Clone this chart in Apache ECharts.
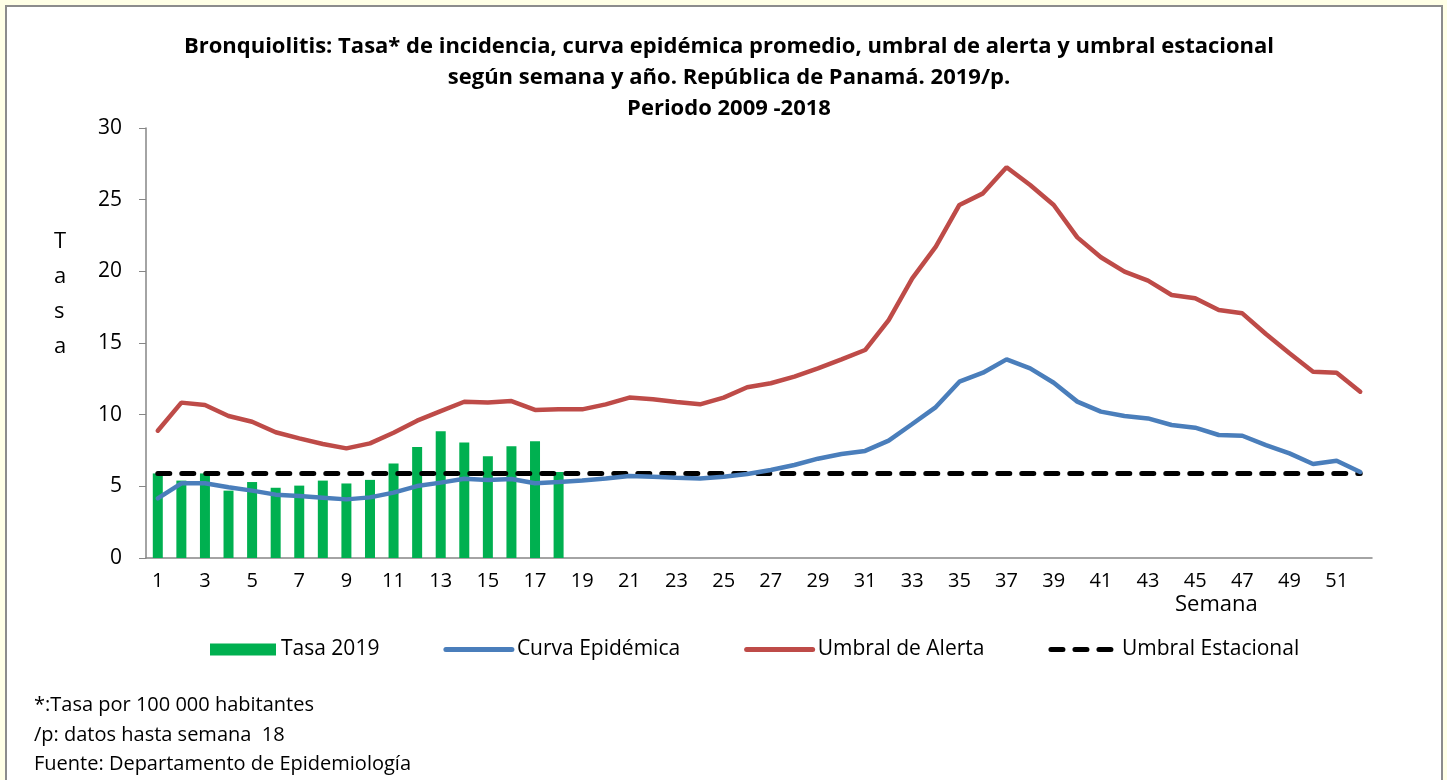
<!DOCTYPE html>
<html>
<head>
<meta charset="utf-8">
<script src="https://cdn.jsdelivr.net/npm/echarts@6/dist/echarts.min.js"></script>
<style>
  html, body { margin: 0; padding: 0; background: #ffffe6; }
  #frame {
    position: absolute; left: 5px; top: 5px;
    width: 1434px; height: 800px;
    background: #fff; border: 2px solid #8c8c8c;
  }
  #chart { position: absolute; left: 0; top: 0; width: 1447px; height: 780px; }
</style>
</head>
<body>
<div id="frame"></div>
<div id="chart"></div>
<script>
// semanas epidemiológicas 1..52
const semanas = Array.from({ length: 52 }, (_, i) => String(i + 1));

// tasa 2019 (datos hasta semana 18)
const tasa2019 = [5.9, 5.4, 5.9, 4.7, 5.3, 4.9, 5.05, 5.4, 5.2, 5.45,
  6.6, 7.75, 8.85, 8.05, 7.1, 7.8, 8.15, 6.0];

// curva epidémica promedio 2009-2018
const curvaEpidemica = [4.16, 5.21, 5.21, 4.93, 4.7, 4.42, 4.33, 4.21, 4.09, 4.23,
  4.56, 5.02, 5.26, 5.53, 5.44, 5.51, 5.21, 5.3, 5.4, 5.54,
  5.72, 5.67, 5.6, 5.54, 5.67, 5.86, 6.14, 6.49, 6.93, 7.26,
  7.47, 8.19, 9.35, 10.53, 12.3, 12.93, 13.86, 13.23, 12.23, 10.91,
  10.21, 9.91, 9.74, 9.28, 9.09, 8.58, 8.53, 7.88, 7.3, 6.56,
  6.79, 6.0];

// umbral de alerta
const umbralAlerta = [8.88, 10.84, 10.67, 9.91, 9.51, 8.77, 8.35, 7.95, 7.65, 8.0,
  8.74, 9.58, 10.25, 10.9, 10.85, 10.95, 10.33, 10.37, 10.37, 10.72,
  11.19, 11.07, 10.88, 10.72, 11.19, 11.91, 12.19, 12.65, 13.23, 13.86,
  14.51, 16.6, 19.51, 21.72, 24.63, 25.44, 27.26, 26.02, 24.63, 22.37,
  20.98, 19.98, 19.35, 18.35, 18.12, 17.3, 17.07, 15.63, 14.28, 13.0,
  12.93, 11.6];

// umbral estacional (constante)
const umbralEstacional = semanas.map(() => 5.9);

const notas = [
  "*:Tasa por 100 000 habitantes",
  "/p: datos hasta semana  18",
  "Fuente: Departamento de Epidemiología",
];

const FONT = "Open Sans";
const AZUL = "#4a7ebb";
const ROJO = "#be4b48";
const VERDE = "#00b050";

const chart = echarts.init(document.getElementById("chart"));

chart.setOption({
  backgroundColor: "transparent",
  textStyle: { fontFamily: FONT, color: "#000" },
  title: {
    text: "Bronquiolitis: Tasa* de incidencia, curva epidémica promedio, umbral de alerta y umbral estacional\nsegún semana y año. República de Panamá. 2019/p.\nPeriodo 2009 -2018",
    left: 724,
    textAlign: "center",
    top: 26,
    textStyle: {
      fontFamily: FONT,
      fontSize: 22,
      fontWeight: "bold",
      lineHeight: 31,
      color: "#000",
    },
  },
  legend: {
    left: 210,
    top: 639,
    padding: 0,
    itemWidth: 66,
    itemHeight: 12,
    itemGap: 64,
    textStyle: { fontFamily: FONT, fontSize: 21, color: "#000" },
    data: [
      { name: "Tasa 2019", icon: "rect" },
      {
        name: "Curva Epidémica",
        itemStyle: { opacity: 0 },
        lineStyle: { color: AZUL, width: 5, cap: "round" },
      },
      {
        name: "Umbral de Alerta",
        itemStyle: { opacity: 0 },
        lineStyle: { color: ROJO, width: 5, cap: "round" },
      },
      {
        name: "Umbral Estacional",
        itemStyle: { opacity: 0 },
        lineStyle: { color: "#000", width: 5, cap: "round", type: [12, 12] },
      },
    ],
  },
  grid: { left: 146, right: 75, top: 128, bottom: 222 },
  xAxis: {
    type: "category",
    data: semanas,
    boundaryGap: true,
    axisLine: { lineStyle: { color: "#868686", width: 1.5 } },
    axisTick: { length: 7, lineStyle: { color: "#868686" } },
    axisLabel: { interval: 1, fontSize: 20, color: "#000", margin: 13 },
  },
  yAxis: {
    type: "value",
    min: 0,
    max: 30,
    interval: 5,
    splitLine: { show: false },
    axisLine: { show: true, lineStyle: { color: "#868686", width: 1.5 } },
    axisTick: { show: true, length: 7, lineStyle: { color: "#868686" } },
    axisLabel: { fontSize: 21, color: "#000", margin: 24 },
  },
  graphic: [
    {
      type: "text", left: 54, top: 224,
      style: { text: "T\na\ns\na", font: "22px " + FONT, lineHeight: 35, fill: "#000" },
    },
    {
      type: "text", left: 1175, top: 594,
      style: { text: "Semana", font: "22px " + FONT, fill: "#000" },
    },
    {
      type: "text", left: 34, top: 691,
      style: { text: notas.join("\n"), font: "20px " + FONT, lineHeight: 29.5, fill: "#000" },
    },
  ],
  series: [
    {
      name: "Tasa 2019",
      type: "bar",
      data: tasa2019,
      barWidth: 10,
      itemStyle: { color: VERDE },
      z: 1,
    },
    {
      name: "Curva Epidémica",
      type: "line",
      data: curvaEpidemica,
      symbol: "none",
      lineStyle: { color: AZUL, width: 4.5, cap: "round" },
      itemStyle: { color: AZUL },
      z: 3,
    },
    {
      name: "Umbral de Alerta",
      type: "line",
      data: umbralAlerta,
      symbol: "none",
      lineStyle: { color: ROJO, width: 4.5, cap: "round" },
      itemStyle: { color: ROJO },
      z: 3,
    },
    {
      name: "Umbral Estacional",
      type: "line",
      data: umbralEstacional,
      symbol: "none",
      lineStyle: { color: "#000", width: 5, type: [12, 12], cap: "round" },
      itemStyle: { color: "#000" },
      z: 2,
    },
  ],
});
</script>
</body>
</html>
